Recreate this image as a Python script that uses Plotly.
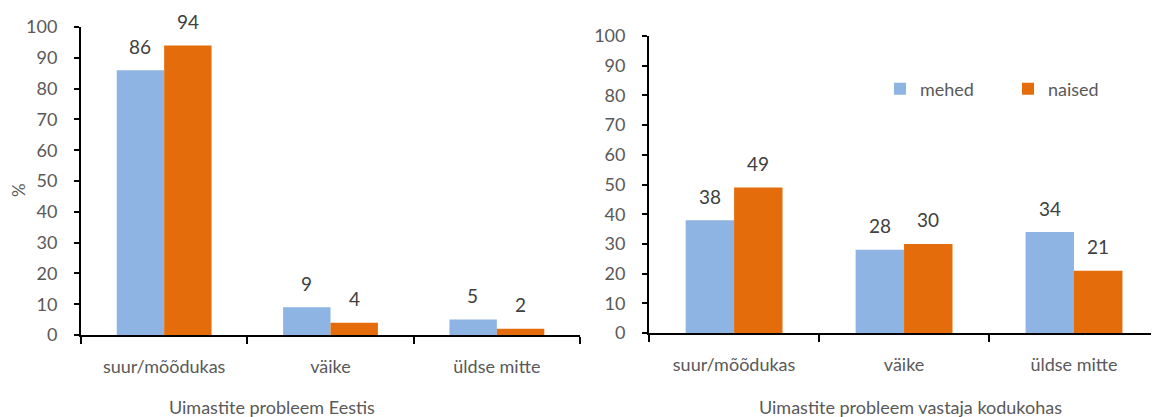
import plotly.graph_objects as go
from plotly.subplots import make_subplots

categories = ["suur/mõõdukas", "väike", "üldse mitte"]
eestis_mehed = [86, 9, 5]
eestis_naised = [94, 4, 2]
kodukoht_mehed = [38, 28, 34]
kodukoht_naised = [49, 30, 21]
titles = ["Uimastite probleem Eestis", "Uimastite probleem vastaja kodukohas"]

blue = "#8EB4E3"
orange = "#E46C0A"
font = "Lato"
grey = "#595959"

fig = make_subplots(rows=1, cols=2)

for col, (men, women) in enumerate([(eestis_mehed, eestis_naised),
                                    (kodukoht_mehed, kodukoht_naised)], start=1):
    fig.add_trace(go.Bar(x=categories, y=men, name="mehed", marker_color=blue,
                         marker_line_width=0, showlegend=(col == 2)), row=1, col=col)
    fig.add_trace(go.Bar(x=categories, y=women, name="naised", marker_color=orange,
                         marker_line_width=0, showlegend=(col == 2)), row=1, col=col)
    xref = "x" if col == 1 else "x2"
    yref = "y" if col == 1 else "y2"
    for cat, m, w in zip(categories, men, women):
        for val, shift in [(m, -24), (w, 24)]:
            fig.add_annotation(x=cat, y=val, xref=xref, yref=yref, text=str(val),
                               showarrow=False, xshift=shift, yshift=24,
                               yanchor="middle",
                               font=dict(size=19, color="#404040", family=font))

axis_common = dict(showline=True, linecolor="black", linewidth=2,
                   ticks="outside", tickcolor="black", tickwidth=2,
                   showgrid=False, zeroline=False, automargin=False,
                   tickfont=dict(size=18, color=grey, family=font))

fig.update_xaxes(tickson="boundaries", ticklen=7, ticklabelstandoff=14, **axis_common)
fig.update_yaxes(range=[0, 100], dtick=10, ticklen=5, ticklabelstandoff=13, **axis_common)

fig.update_layout(
    width=1151, height=409,
    margin=dict(l=0, r=0, t=0, b=0),
    plot_bgcolor="white", paper_bgcolor="white",
    barmode="group", bargap=0.43, bargroupgap=0,
    xaxis=dict(domain=[0.0634, 0.497]),
    xaxis2=dict(domain=[0.557, 1.0]),
    yaxis=dict(domain=[0.2005, 0.9535]),
    yaxis2=dict(domain=[0.2054, 0.9315]),
    legend=dict(orientation="h", x=0.7576, y=0.802, xanchor="left", yanchor="middle",
                entrywidth=83, font=dict(size=18, color=grey, family=font),
                bgcolor="rgba(0,0,0,0)"),
    font=dict(family=font),
)

fig.add_annotation(text="%", xref="paper", yref="paper", x=0.0087, y=0.555,
                   xanchor="center", yanchor="middle", textangle=-90, showarrow=False,
                   font=dict(size=17, color=grey, family=font))
for x, t in [(0.2294, titles[0]), (0.7837, titles[1])]:
    fig.add_annotation(text=t, xref="paper", yref="paper", x=x, y=0.024,
                       xanchor="center", yanchor="middle", showarrow=False,
                       font=dict(size=18, color=grey, family=font))

fig.write_html("out.html")
